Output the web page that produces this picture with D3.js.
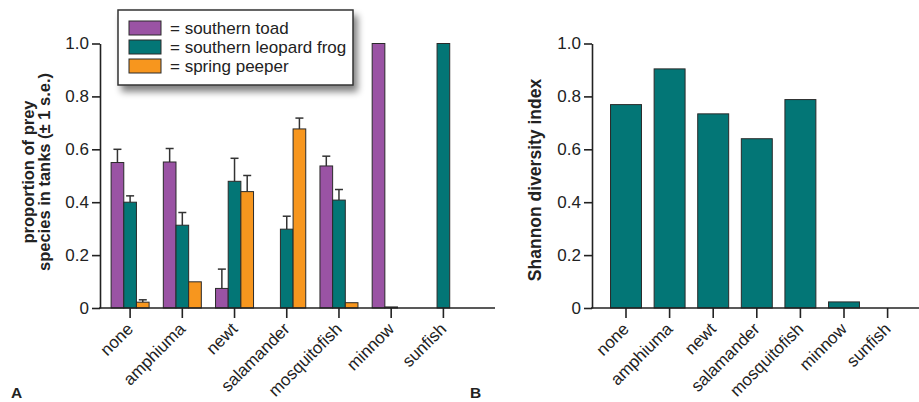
<!DOCTYPE html>
<html>
<head>
<meta charset="utf-8">
<script src="https://cdn.jsdelivr.net/npm/d3@7"></script>
<style>
  body { margin: 0; background: #fff; }
  svg { font-family: "Liberation Sans", Arial, sans-serif; }
</style>
</head>
<body>
<svg id="chart"></svg>
<script>
// categories (predator treatment)
var predators = ['none', 'amphiuma', 'newt', 'salamander', 'mosquitofish', 'minnow', 'sunfish'];
var species = ['southern toad', 'southern leopard frog', 'spring peeper'];
var colors = ['#9a53a4', '#037676', '#f7961e'];

// proportion of prey species, one array per species
var toad    = [0.55, 0.552, 0.074, 0, 0.537, 1.0, 0];
var leopard = [0.40, 0.313, 0.479, 0.298, 0.408, 0.004, 1.0];
var peeper  = [0.022, 0.099, 0.44, 0.677, 0.02, 0, 0];
// top of the +1 s.e. whisker (null = none drawn)
var toadErr    = [0.60, 0.603, 0.147, null, 0.574, null, null];
var leopardErr = [0.424, 0.361, 0.566, 0.347, 0.448, null, null];
var peeperErr  = [0.031, null, 0.501, 0.718, null, null, null];

// Shannon diversity index per predator treatment
var shannon = [0.769, 0.904, 0.734, 0.64, 0.788, 0.023, 0];

var yTicks = [0, 0.2, 0.4, 0.6, 0.8, 1.0];

var width = 919, height = 402;
var fontSize = 17;
var ink = '#222';
var svg = d3.select('#chart').attr('width', width).attr('height', height);

var y = d3.scaleLinear().domain([0, 1]).range([308, 43.5]);
var fmt = function(d) { return d === 0 ? '0' : d3.format('.1f')(d); };

function drawYAxis(x0) {
  var g = svg.append('g').attr('transform', 'translate(' + x0 + ',0)');
  g.call(d3.axisLeft(y).tickValues(yTicks).tickFormat(fmt).tickSize(8).tickPadding(3).tickSizeOuter(0));
  g.select('.domain').attr('stroke', ink).attr('stroke-width', 1.6);
  g.selectAll('.tick line').attr('stroke', ink).attr('stroke-width', 1.6);
  g.selectAll('.tick text').attr('font-size', fontSize).attr('fill', ink)
    .attr('font-family', '"Liberation Sans", Arial, sans-serif');
}

function drawXAxis(xs, left, right) {
  var g = svg.append('g').attr('transform', 'translate(0,308)');
  g.call(d3.axisBottom(xs).tickSize(10).tickSizeOuter(0));
  g.select('.domain').remove();
  g.append('line').attr('x1', left).attr('x2', right).attr('stroke', ink).attr('stroke-width', 1.6);
  g.selectAll('.tick line').attr('stroke', ink).attr('stroke-width', 1.6);
  g.selectAll('.tick text')
    .attr('font-size', fontSize).attr('fill', ink)
    .attr('font-family', '"Liberation Sans", Arial, sans-serif')
    .attr('text-anchor', 'end')
    .attr('dy', null).attr('y', 0)
    .attr('transform', 'translate(4,22) rotate(-45)');
}

// ---------- panel A ----------
var xA = d3.scaleBand().domain(predators).range([104, 469.5]);
var sub = d3.scaleBand().domain([0, 1, 2]).range([-19, 19]);

var seriesVals = [toad, leopard, peeper];
var seriesErr = [toadErr, leopardErr, peeperErr];

var rows = [];
seriesVals.forEach(function(vals, s) {
  predators.forEach(function(p, i) {
    rows.push({ p: p, s: s, v: vals[i], e: seriesErr[s][i] });
  });
});
function barX(d) { return xA(d.p) + xA.bandwidth() / 2 + sub(d.s); }
function midX(d) { return barX(d) + sub.bandwidth() / 2; }

var errRows = rows.filter(function(d) { return d.e != null; });
var barsA = svg.append('g');
// whiskers under the bars
barsA.selectAll('.stem').data(errRows).enter().append('line')
  .attr('x1', midX).attr('x2', midX)
  .attr('y1', function(d) { return y(d.v); })
  .attr('y2', function(d) { return y(d.e); })
  .attr('stroke', '#333').attr('stroke-width', 1.5);
barsA.selectAll('.cap').data(errRows).enter().append('line')
  .attr('x1', function(d) { return midX(d) - 4; })
  .attr('x2', function(d) { return midX(d) + 4; })
  .attr('y1', function(d) { return y(d.e); })
  .attr('y2', function(d) { return y(d.e); })
  .attr('stroke', '#333').attr('stroke-width', 1.5);
barsA.selectAll('rect').data(rows.filter(function(d) { return d.v > 0; })).enter().append('rect')
  .attr('x', barX).attr('width', sub.bandwidth())
  .attr('y', function(d) { return y(d.v); })
  .attr('height', function(d) { return y(0) - y(d.v); })
  .attr('fill', function(d) { return d.v < 0.01 ? ink : colors[d.s]; })
  .attr('stroke', '#2a2a2a').attr('stroke-width', 1);

drawYAxis(100);
drawXAxis(xA, 99, 495);

// y label A
svg.append('text')
  .attr('transform', 'translate(34,172) rotate(-90)')
  .attr('text-anchor', 'middle').attr('font-size', 16.5).attr('font-weight', 'bold').attr('fill', ink)
  .selectAll('tspan').data(['proportion of prey', 'species in tanks (\u00b1 1 s.e.)'])
  .enter().append('tspan')
  .attr('x', 0).attr('dy', function(d, i) { return i === 0 ? 0 : 16; })
  .text(function(d) { return d; });

// legend
var defs = svg.append('defs');
var f = defs.append('filter').attr('id', 'shadow')
  .attr('x', '-10%').attr('y', '-10%').attr('width', '130%').attr('height', '150%');
f.append('feGaussianBlur').attr('in', 'SourceAlpha').attr('stdDeviation', 3.5);
f.append('feOffset').attr('dx', 4).attr('dy', 6).attr('result', 'ob');
f.append('feComponentTransfer').append('feFuncA').attr('type', 'linear').attr('slope', 0.5);
var fm = f.append('feMerge');
fm.append('feMergeNode');
fm.append('feMergeNode').attr('in', 'SourceGraphic');

var leg = svg.append('g').attr('transform', 'translate(118,10)');
leg.append('rect').attr('width', 235).attr('height', 75)
  .attr('fill', '#fff').attr('stroke', '#333').attr('stroke-width', 1.5)
  .attr('filter', 'url(#shadow)');
var legRows = leg.selectAll('.row').data(species).enter().append('g')
  .attr('transform', function(d, i) { return 'translate(11,' + (11 + i * 19) + ')'; });
legRows.append('rect').attr('width', 32).attr('height', 14)
  .attr('fill', function(d, i) { return colors[i]; })
  .attr('stroke', '#2a2a2a').attr('stroke-width', 1);
legRows.append('text').attr('x', 41).attr('y', 13)
  .attr('font-size', fontSize).attr('fill', ink)
  .text(function(d) { return '= ' + d; });

// ---------- panel B ----------
var xB = d3.scaleBand().domain(predators).range([604.2, 909.4]).paddingInner(0.29).paddingOuter(0.145);

svg.append('g').selectAll('rect')
  .data(predators.map(function(p, i) { return { p: p, v: shannon[i] }; })
    .filter(function(d) { return d.v > 0; }))
  .enter().append('rect')
  .attr('x', function(d) { return xB(d.p); })
  .attr('width', xB.bandwidth())
  .attr('y', function(d) { return y(d.v); })
  .attr('height', function(d) { return y(0) - y(d.v); })
  .attr('fill', colors[1]).attr('stroke', '#2a2a2a').attr('stroke-width', 1);

drawYAxis(592);
drawXAxis(xB, 591, 919);

svg.append('text')
  .attr('transform', 'translate(541,180) rotate(-90)')
  .attr('text-anchor', 'middle').attr('font-size', 17.5).attr('font-weight', 'bold').attr('fill', ink)
  .text('Shannon diversity index');

// panel letters
svg.append('text').attr('x', 11).attr('y', 398).attr('font-size', 15.5).attr('font-weight', 'bold').attr('fill', ink).text('A');
svg.append('text').attr('x', 470).attr('y', 398).attr('font-size', 15.5).attr('font-weight', 'bold').attr('fill', ink).text('B');
</script>
</body>
</html>
